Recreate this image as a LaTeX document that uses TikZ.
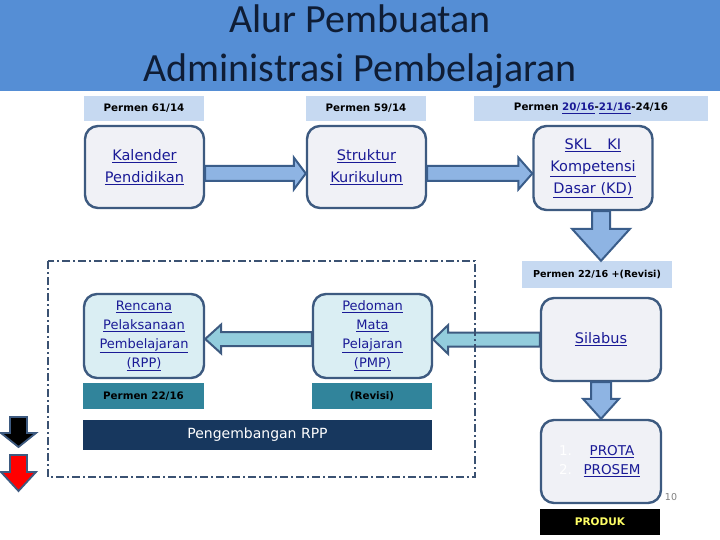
\documentclass[tikz,border=0pt]{standalone}
\usepackage{fontspec}
\setmainfont{DejaVu Sans}
\newfontfamily\titlefont{Carlito}
\usetikzlibrary{calc}
\definecolor{titlebg}{HTML}{558ED5}
\definecolor{titletx}{HTML}{0F1D35}
\definecolor{labbg}{HTML}{C6D9F1}
\definecolor{boxline}{HTML}{3D5A80}
\definecolor{boxfill}{HTML}{F0F1F6}
\definecolor{boxfillb}{HTML}{DAEEF3}
\definecolor{linktx}{HTML}{1A1A96}
\definecolor{arrA}{HTML}{8EB4E3}
\definecolor{arrAline}{HTML}{3A5D8A}
\definecolor{arrB}{HTML}{93CDDD}
\definecolor{tealbar}{HTML}{31849B}
\definecolor{navybar}{HTML}{17375E}
\definecolor{dashc}{HTML}{3B5272}
\definecolor{produktx}{HTML}{FFFF66}
% block arrows: style, from, to, shaft half, head half, head length
\newcommand{\rblock}[6]{\draw[#1] let \p1=(#2), \p2=(#3) in (\x1,\y1+#4) -- (\x2-#6,\y1+#4) -- (\x2-#6,\y1+#5) -- (\x2,\y1) -- (\x2-#6,\y1-#5) -- (\x2-#6,\y1-#4) -- (\x1,\y1-#4) -- cycle;}
\newcommand{\lblock}[6]{\draw[#1] let \p1=(#2), \p2=(#3) in (\x1,\y1+#4) -- (\x2+#6,\y1+#4) -- (\x2+#6,\y1+#5) -- (\x2,\y1) -- (\x2+#6,\y1-#5) -- (\x2+#6,\y1-#4) -- (\x1,\y1-#4) -- cycle;}
\newcommand{\dblock}[6]{\draw[#1] let \p1=(#2), \p2=(#3) in (\x1-#4,\y1) -- (\x1-#4,\y2+#6) -- (\x1-#5,\y2+#6) -- (\x1,\y2) -- (\x1+#5,\y2+#6) -- (\x1+#4,\y2+#6) -- (\x1+#4,\y1) -- cycle;}
\tikzset{
  lab/.style={fill=labbg, inner sep=0pt, minimum height=25pt, font=\fontsize{10.3}{12}\selectfont\bfseries, text=black},
  boxa/.style={draw=boxline, line width=2.4pt, rounded corners=13pt, fill=boxfill, inner sep=0pt, minimum width=119pt, minimum height=82pt, align=center, text=linktx, font=\fontsize{14.5}{22}\selectfont},
  boxb/.style={boxa, fill=boxfillb, font=\fontsize{13}{19}\selectfont},
  arrowa/.style={draw=arrAline, fill=arrA, line width=2pt, line join=miter},
  arrowb/.style={draw=boxline, fill=arrB, line width=2pt, line join=miter},
  bar/.style={inner sep=0pt, minimum height=26pt, font=\fontsize{10.3}{12}\selectfont\bfseries, text=black, fill=tealbar},
}
\begin{document}
\begin{tikzpicture}[x=1pt, y=-1pt]
\useasboundingbox (0,0) rectangle (720,540);
\fill[white] (0,0) rectangle (720,540);
% title
\fill[titlebg] (0,0) rectangle (720,91);
\node[anchor=base, text=titletx, font=\titlefont\fontsize{40}{48}\selectfont, inner sep=0pt] (t1) at (360,33) {Alur Pembuatan};
\node[anchor=base, text=titletx, font=\titlefont\fontsize{40}{48}\selectfont, inner sep=0pt] (t2) at (360,82) {Administrasi Pembelajaran};
% labels
\node[lab, minimum width=120pt] (lab1) at (144,108.5) {Permen 61/14};
\node[lab, minimum width=120pt] (lab2) at (366,108.5) {Permen 59/14};
\node[lab, minimum width=234pt] (lab3) at (591,108.5) {Permen \textcolor{linktx}{\underline{20/16}}-\textcolor{linktx}{\underline{21/16}}-24/16};
\node[lab, minimum width=150pt, minimum height=27pt, font=\fontsize{9.6}{11}\selectfont\bfseries] (lab4) at (597,274.5) {Permen 22/16 +(Revisi)};
% top boxes
\node[boxa] (kal) at (144.5,167) {\underline{Kalender}\\\underline{Pendidikan}};
\node[boxa] (struk) at (366.5,167) {\underline{Struktur}\\\underline{Kurikulum}};
\node[boxa, minimum height=84pt] (skl) at (593,168) {\underline{SKL\hspace{1.1em}KI}\\\underline{Kompetensi}\\\underline{Dasar (KD)}};
% middle boxes
\node[boxb, minimum width=120pt, minimum height=84pt] (rpp) at (144,336) {\underline{Rencana}\\\underline{Pelaksanaan}\\\underline{Pembelajaran}\\\underline{(RPP)}};
\node[boxb, minimum width=119pt, minimum height=84pt] (pmp) at (372.5,336) {\underline{Pedoman}\\\underline{Mata}\\\underline{Pelajaran}\\\underline{(PMP)}};
\node[boxa, minimum width=120pt, minimum height=83pt] (sil) at (601,339.5) {\underline{Silabus}};
\node[boxa, minimum width=120pt, minimum height=83pt, font=\fontsize{13.5}{19}\selectfont] (prota) at (601,461.5) {\makebox[22pt][l]{\textcolor{white}{1.}}\makebox[62pt][c]{\underline{PROTA}}\\\makebox[22pt][l]{\textcolor{white}{2.}}\makebox[62pt][c]{\underline{PROSEM}}};
% bars
\node[bar, minimum width=121pt] (bar1) at (143.5,396) {Permen 22/16};
\node[bar, minimum width=120pt] (bar2) at (372,396) {(Revisi)};
\node[fill=navybar, inner sep=0pt, minimum width=349pt, minimum height=30pt, text=white, font=\fontsize{14}{16}\selectfont] (peng) at (257.5,435) {Pengembangan RPP};
\node[fill=black, inner sep=0pt, minimum width=120pt, minimum height=26pt, text=produktx, font=\fontsize{10.5}{12}\selectfont\bfseries] (produk) at (600,522) {PRODUK};
\node[text=gray, font=\fontsize{9.5}{10}\selectfont, inner sep=0pt] (pnum) at (671,497) {10};
% arrows
\rblock{arrowa}{[yshift=-6.5pt]kal.east}{struk.west}{7.5pt}{16pt}{12pt}
\rblock{arrowa}{[yshift=-6.5pt]struk.east}{skl.west}{7.5pt}{16pt}{14pt}
\dblock{arrowa}{[xshift=8pt]skl.south}{lab4.north}{9pt}{29pt}{32pt}
\lblock{arrowb}{sil.west}{pmp.east}{7pt}{14.5pt}{15pt}
\lblock{arrowb}{[yshift=-3pt]pmp.west}{rpp.east}{7pt}{14.5pt}{16pt}
\dblock{arrowa}{sil.south}{prota.north}{10pt}{18pt}{20pt}
% dash-dot frame
\draw[dashc, line width=2.2pt, dash pattern=on 8pt off 3pt on 2pt off 3pt] (48,261) rectangle (475,477);
% legend arrows
\draw[boxline, fill=black, line width=1.8pt, line join=miter] (10,417) -- (27,417) -- (27,433) -- (36,433) -- (18.5,447) -- (1,433) -- (10,433) -- cycle;
\draw[boxline, fill=red, line width=1.8pt, line join=miter] (10,455) -- (27,455) -- (27,472) -- (36,472) -- (18.5,491) -- (1,472) -- (10,472) -- cycle;
\end{tikzpicture}
\end{document}
